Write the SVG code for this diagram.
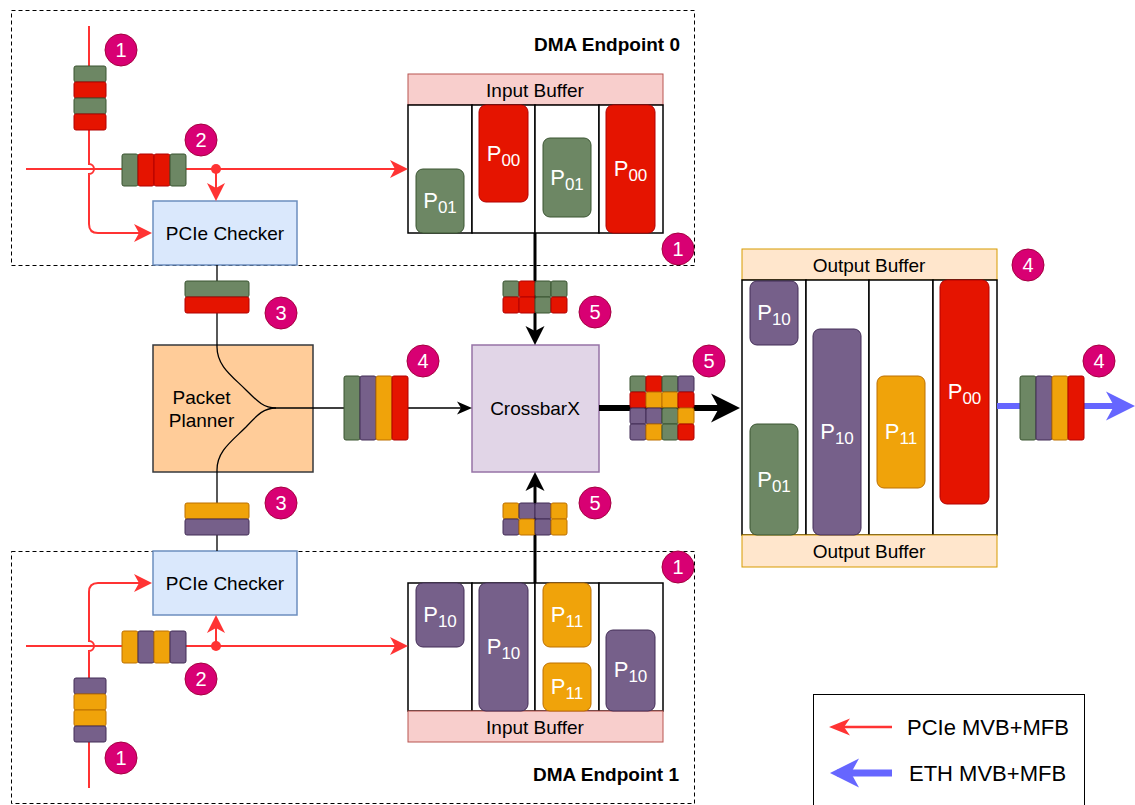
<svg xmlns="http://www.w3.org/2000/svg" width="1135" height="805" viewBox="0 0 1135 805">
<defs>
<style>
text{font-family:"Liberation Sans",Arial,sans-serif;}
.lbl{font-size:19px;fill:#000;text-anchor:middle;}
.bold{font-size:19px;font-weight:bold;fill:#000;text-anchor:end;}
.leg{font-size:22px;fill:#000;}
.g{fill:#6d8764;stroke:#3a5431;}
.r{fill:#e51400;stroke:#b20000;}
.p{fill:#76608a;stroke:#432d57;}
.o{fill:#f0a30a;stroke:#bd7000;}
.pk{font-size:22px;fill:#fff;text-anchor:middle;}
.sub{font-size:17px;}
.badge circle{fill:#d80073;stroke:#a50040;stroke-width:1;}
.badge text{font-size:20px;fill:#fff;text-anchor:middle;}
.dash{fill:none;stroke:#000;stroke-width:1;stroke-dasharray:4 3;}
.cell{fill:#fff;stroke:#000;stroke-width:1.5;}
.pcie{fill:none;stroke:#ff3333;stroke-width:2;}
.thin{fill:none;stroke:#000;stroke-width:1.3;}
.thick{fill:none;stroke:#000;stroke-width:3;}
</style>
<marker id="ar" markerUnits="userSpaceOnUse" markerWidth="20" markerHeight="20" refX="14" refY="9" orient="auto" overflow="visible">
<path d="M0,0 L18,9 L0,18 L5,9 z" fill="#ff3333"/>
</marker>
<marker id="ab" markerUnits="userSpaceOnUse" markerWidth="16" markerHeight="14" refX="11" refY="6.5" orient="auto" overflow="visible">
<path d="M0,0 L15,6.5 L0,13 L4,6.5 z" fill="#000"/>
</marker>
<marker id="abt" markerUnits="userSpaceOnUse" markerWidth="20" markerHeight="20" refX="14" refY="9.5" orient="auto" overflow="visible">
<path d="M0,0 L19,9.5 L0,19 L5,9.5 z" fill="#000"/>
</marker>
<marker id="abx" markerUnits="userSpaceOnUse" markerWidth="30" markerHeight="30" refX="22" refY="14.5" orient="auto" overflow="visible">
<path d="M0,0 L29,14.5 L0,29 L8,14.5 z" fill="#000"/>
</marker>
<marker id="abl" markerUnits="userSpaceOnUse" markerWidth="30" markerHeight="30" refX="22" refY="14.5" orient="auto" overflow="visible">
<path d="M0,0 L29,14.5 L0,29 L8,14.5 z" fill="#6666ff"/>
</marker>
<marker id="arl" markerUnits="userSpaceOnUse" markerWidth="22" markerHeight="18" refX="15" refY="8.5" orient="auto" overflow="visible">
<path d="M0,0 L21,8.5 L0,17 L6,8.5 z" fill="#ff3333"/>
</marker>
</defs>
<rect width="1135" height="805" fill="#fff"/>

<g id="endpoint0">
<rect class="dash" x="11.5" y="10.5" width="683" height="255"/>
<text class="bold" x="680" y="51">DMA Endpoint 0</text>
</g>
<g id="endpoint1">
<rect class="dash" x="11.5" y="551.5" width="683" height="252"/>
<text class="bold" x="679" y="781">DMA Endpoint 1</text>
</g>

<g id="pcie-checker-0">
<rect x="153" y="201" width="144" height="64" fill="#dae8fc" stroke="#6c8ebf" stroke-width="1.5"/>
<text class="lbl" x="225" y="240">PCIe Checker</text>
</g>
<g id="pcie-checker-1">
<rect x="153" y="551" width="144" height="64" fill="#dae8fc" stroke="#6c8ebf" stroke-width="1.5"/>
<text class="lbl" x="225" y="590">PCIe Checker</text>
</g>

<g id="input-buffer-0">
<rect x="408" y="74" width="255" height="31" fill="#f8cecc" stroke="#b85450" stroke-width="1"/>
<text class="lbl" x="535" y="97">Input Buffer</text>
<rect class="cell" x="408" y="105" width="64" height="128"/>
<rect class="cell" x="472" y="105" width="63" height="128"/>
<rect class="cell" x="535" y="105" width="64" height="128"/>
<rect class="cell" x="599" y="105" width="64" height="128"/>
<rect class="g" x="416" y="169" width="48" height="64" rx="7"/>
<text class="pk" x="440" y="208">P<tspan class="sub" dy="5">01</tspan></text>
<rect class="r" x="479" y="105" width="49" height="97" rx="7"/>
<text class="pk" x="503.5" y="161">P<tspan class="sub" dy="5">00</tspan></text>
<rect class="g" x="543" y="138" width="48" height="79" rx="7"/>
<text class="pk" x="567" y="185">P<tspan class="sub" dy="5">01</tspan></text>
<rect class="r" x="606" y="105" width="49" height="128" rx="7"/>
<text class="pk" x="630.5" y="176">P<tspan class="sub" dy="5">00</tspan></text>
</g>

<g id="input-buffer-1">
<rect class="cell" x="408" y="583" width="64" height="128"/>
<rect class="cell" x="472" y="583" width="63" height="128"/>
<rect class="cell" x="535" y="583" width="64" height="128"/>
<rect class="cell" x="599" y="583" width="64" height="128"/>
<rect x="408" y="711" width="255" height="31" fill="#f8cecc" stroke="#b85450" stroke-width="1"/>
<text class="lbl" x="535" y="734">Input Buffer</text>
<rect class="p" x="416" y="583" width="48" height="64" rx="7"/>
<text class="pk" x="440" y="622">P<tspan class="sub" dy="5">10</tspan></text>
<rect class="p" x="479" y="583" width="49" height="128" rx="7"/>
<text class="pk" x="503.5" y="654">P<tspan class="sub" dy="5">10</tspan></text>
<rect class="o" x="543" y="583" width="48" height="64" rx="7"/>
<text class="pk" x="567" y="622">P<tspan class="sub" dy="5">11</tspan></text>
<rect class="o" x="543" y="663" width="48" height="48" rx="7"/>
<text class="pk" x="567" y="694">P<tspan class="sub" dy="5">11</tspan></text>
<rect class="p" x="606" y="630" width="49" height="81" rx="7"/>
<text class="pk" x="630.5" y="677">P<tspan class="sub" dy="5">10</tspan></text>
</g>

<g id="packet-planner">
<rect x="153" y="345" width="160" height="127" fill="#ffcc99" stroke="#36393d" stroke-width="1.5"/>
<text class="lbl" x="201.5" y="404">Packet</text>
<text class="lbl" x="201.5" y="427">Planner</text>
</g>

<g id="crossbarx">
<rect x="472" y="345" width="127" height="127" fill="#e1d5e7" stroke="#9673a6" stroke-width="1.5"/>
<text class="lbl" x="535" y="415">CrossbarX</text>
</g>

<g id="output-buffer">
<rect x="742" y="249" width="255" height="31" fill="#ffe6cc" stroke="#d79b00" stroke-width="1"/>
<text class="lbl" x="869" y="272">Output Buffer</text>
<rect class="cell" x="742" y="280" width="64" height="255"/>
<rect class="cell" x="806" y="280" width="63" height="255"/>
<rect class="cell" x="869" y="280" width="64" height="255"/>
<rect class="cell" x="933" y="280" width="64" height="255"/>
<rect x="742" y="535" width="255" height="32" fill="#ffe6cc" stroke="#d79b00" stroke-width="1"/>
<text class="lbl" x="869" y="558">Output Buffer</text>
<rect class="p" x="750" y="281" width="48" height="64" rx="7"/>
<text class="pk" x="774" y="320">P<tspan class="sub" dy="5">10</tspan></text>
<rect class="g" x="750" y="424" width="48" height="111" rx="7"/>
<text class="pk" x="774" y="487">P<tspan class="sub" dy="5">01</tspan></text>
<rect class="p" x="813" y="329" width="48" height="206" rx="7"/>
<text class="pk" x="837" y="439">P<tspan class="sub" dy="5">10</tspan></text>
<rect class="o" x="877" y="376" width="48" height="112" rx="7"/>
<text class="pk" x="901" y="439">P<tspan class="sub" dy="5">11</tspan></text>
<rect class="r" x="940" y="280" width="49" height="224" rx="7"/>
<text class="pk" x="964.5" y="399">P<tspan class="sub" dy="5">00</tspan></text>
</g>

<g id="connectors">
<path class="pcie" d="M89,26 L89,164 A5,5 0 0 1 89,174 L89,224 Q89,233 98,233 L148,233" marker-end="url(#ar)"/>
<path class="pcie" d="M26,169 L404,169" marker-end="url(#ar)"/>
<path class="pcie" d="M216,169 L216,197" marker-end="url(#ar)"/>
<path class="pcie" d="M89,788 L89,651 A5,5 0 0 0 89,641 L89,592 Q89,583 98,583 L148,583" marker-end="url(#ar)"/>
<path class="pcie" d="M26,646 L404,646" marker-end="url(#ar)"/>
<path class="pcie" d="M216,646 L216,619" marker-end="url(#ar)"/>
<circle cx="216" cy="169" r="5" fill="#ff3333"/>
<circle cx="216" cy="646" r="5" fill="#ff3333"/>
<path class="thin" d="M217,265 L217,347 C217,366 232,376 246,390 C258,402 264,408 276,408 L468,408" marker-end="url(#ab)"/>
<path class="thin" d="M217,551 L217,470 C217,451 232,441 246,427 C258,414 264,408 276,408"/>
<path class="thick" d="M535,233 L535,340" marker-end="url(#abt)"/>
<path class="thick" d="M535,583 L535,477" marker-end="url(#abt)"/>
<path fill="none" stroke="#000" stroke-width="6" d="M599,408 L733,408" marker-end="url(#abx)"/>
<path fill="none" stroke="#6666ff" stroke-width="6" d="M997,406 L1128,406" marker-end="url(#abl)"/>
</g>

<g id="stack-1-top">
<rect class="g" x="74" y="66" width="32" height="16" rx="2"/>
<rect class="r" x="74" y="82" width="32" height="16" rx="2"/>
<rect class="g" x="74" y="98" width="32" height="16" rx="2"/>
<rect class="r" x="74" y="114" width="32" height="16" rx="2"/>
</g>
<g id="stack-2-top">
<rect class="g" x="122" y="154" width="16" height="32" rx="2"/>
<rect class="r" x="138" y="154" width="16" height="32" rx="2"/>
<rect class="r" x="154" y="154" width="16" height="32" rx="2"/>
<rect class="g" x="170" y="154" width="16" height="32" rx="2"/>
</g>
<g id="stack-3-top">
<rect class="g" x="185" y="281" width="64" height="16" rx="2"/>
<rect class="r" x="185" y="297" width="64" height="16" rx="2"/>
</g>
<g id="stack-3-bottom">
<rect class="o" x="185" y="503" width="64" height="16" rx="2"/>
<rect class="p" x="185" y="519" width="64" height="16" rx="2"/>
</g>
<g id="stack-2-bottom">
<rect class="o" x="122" y="631" width="16" height="32" rx="2"/>
<rect class="p" x="138" y="631" width="16" height="32" rx="2"/>
<rect class="o" x="154" y="631" width="16" height="32" rx="2"/>
<rect class="p" x="170" y="631" width="16" height="32" rx="2"/>
</g>
<g id="stack-1-bottom">
<rect class="p" x="74" y="678" width="32" height="16" rx="2"/>
<rect class="o" x="74" y="694" width="32" height="16" rx="2"/>
<rect class="o" x="74" y="710" width="32" height="16" rx="2"/>
<rect class="p" x="74" y="726" width="32" height="16" rx="2"/>
</g>
<g id="stack-4-planner">
<rect class="g" x="344" y="376" width="16" height="64" rx="2"/>
<rect class="p" x="360" y="376" width="16" height="64" rx="2"/>
<rect class="o" x="376" y="376" width="16" height="64" rx="2"/>
<rect class="r" x="392" y="376" width="16" height="64" rx="2"/>
</g>
<g id="grid-5-top">
<rect class="g" x="503" y="281" width="16" height="16" rx="2"/>
<rect class="r" x="519" y="281" width="16" height="16" rx="2"/>
<rect class="g" x="535" y="281" width="16" height="16" rx="2"/>
<rect class="g" x="551" y="281" width="16" height="16" rx="2"/>
<rect class="r" x="503" y="297" width="16" height="16" rx="2"/>
<rect class="r" x="519" y="297" width="16" height="16" rx="2"/>
<rect class="g" x="535" y="297" width="16" height="16" rx="2"/>
<rect class="r" x="551" y="297" width="16" height="16" rx="2"/>
</g>
<g id="grid-5-bottom">
<rect class="o" x="503" y="503" width="16" height="16" rx="2"/>
<rect class="p" x="519" y="503" width="16" height="16" rx="2"/>
<rect class="p" x="535" y="503" width="16" height="16" rx="2"/>
<rect class="o" x="551" y="503" width="16" height="16" rx="2"/>
<rect class="p" x="503" y="519" width="16" height="16" rx="2"/>
<rect class="o" x="519" y="519" width="16" height="16" rx="2"/>
<rect class="p" x="535" y="519" width="16" height="16" rx="2"/>
<rect class="o" x="551" y="519" width="16" height="16" rx="2"/>
</g>
<g id="grid-5-out">
<rect class="g" x="630" y="376" width="16" height="16" rx="2"/>
<rect class="r" x="646" y="376" width="16" height="16" rx="2"/>
<rect class="g" x="662" y="376" width="16" height="16" rx="2"/>
<rect class="p" x="678" y="376" width="16" height="16" rx="2"/>
<rect class="r" x="630" y="392" width="16" height="16" rx="2"/>
<rect class="o" x="646" y="392" width="16" height="16" rx="2"/>
<rect class="o" x="662" y="392" width="16" height="16" rx="2"/>
<rect class="r" x="678" y="392" width="16" height="16" rx="2"/>
<rect class="p" x="630" y="408" width="16" height="16" rx="2"/>
<rect class="p" x="646" y="408" width="16" height="16" rx="2"/>
<rect class="g" x="662" y="408" width="16" height="16" rx="2"/>
<rect class="o" x="678" y="408" width="16" height="16" rx="2"/>
<rect class="p" x="630" y="424" width="16" height="16" rx="2"/>
<rect class="o" x="646" y="424" width="16" height="16" rx="2"/>
<rect class="g" x="662" y="424" width="16" height="16" rx="2"/>
<rect class="r" x="678" y="424" width="16" height="16" rx="2"/>
</g>
<g id="stack-4-eth">
<rect class="g" x="1020" y="376" width="16" height="64" rx="2"/>
<rect class="p" x="1036" y="376" width="16" height="64" rx="2"/>
<rect class="o" x="1052" y="376" width="16" height="64" rx="2"/>
<rect class="r" x="1068" y="376" width="16" height="64" rx="2"/>
</g>

<g id="badges">
<g class="badge"><circle cx="121" cy="50" r="16"/><text x="121" y="57">1</text></g>
<g class="badge"><circle cx="201" cy="140" r="16"/><text x="201" y="147">2</text></g>
<g class="badge"><circle cx="678" cy="249" r="16"/><text x="678" y="256">1</text></g>
<g class="badge"><circle cx="281" cy="313" r="16"/><text x="281" y="320">3</text></g>
<g class="badge"><circle cx="595" cy="312" r="16"/><text x="595" y="319">5</text></g>
<g class="badge"><circle cx="423" cy="361" r="16"/><text x="423" y="368">4</text></g>
<g class="badge"><circle cx="709" cy="361" r="16"/><text x="709" y="368">5</text></g>
<g class="badge"><circle cx="1028" cy="265" r="16"/><text x="1028" y="272">4</text></g>
<g class="badge"><circle cx="1099" cy="361" r="16"/><text x="1099" y="368">4</text></g>
<g class="badge"><circle cx="281" cy="503" r="16"/><text x="281" y="510">3</text></g>
<g class="badge"><circle cx="595" cy="503" r="16"/><text x="595" y="510">5</text></g>
<g class="badge"><circle cx="678" cy="567" r="16"/><text x="678" y="574">1</text></g>
<g class="badge"><circle cx="201" cy="679" r="16"/><text x="201" y="686">2</text></g>
<g class="badge"><circle cx="121" cy="758" r="16"/><text x="121" y="765">1</text></g>
</g>

<g id="legend">
<rect x="813.5" y="694.5" width="271" height="130" fill="#fff" stroke="#000" stroke-width="1"/>
<path fill="none" stroke="#ff3333" stroke-width="2.5" d="M892,727 L835,727" marker-end="url(#arl)"/>
<text class="leg" x="907" y="735">PCIe MVB+MFB</text>
<path fill="none" stroke="#6666ff" stroke-width="7" d="M892,773 L837,773" marker-end="url(#abl)"/>
<text class="leg" x="909" y="781">ETH MVB+MFB</text>
</g>
</svg>
